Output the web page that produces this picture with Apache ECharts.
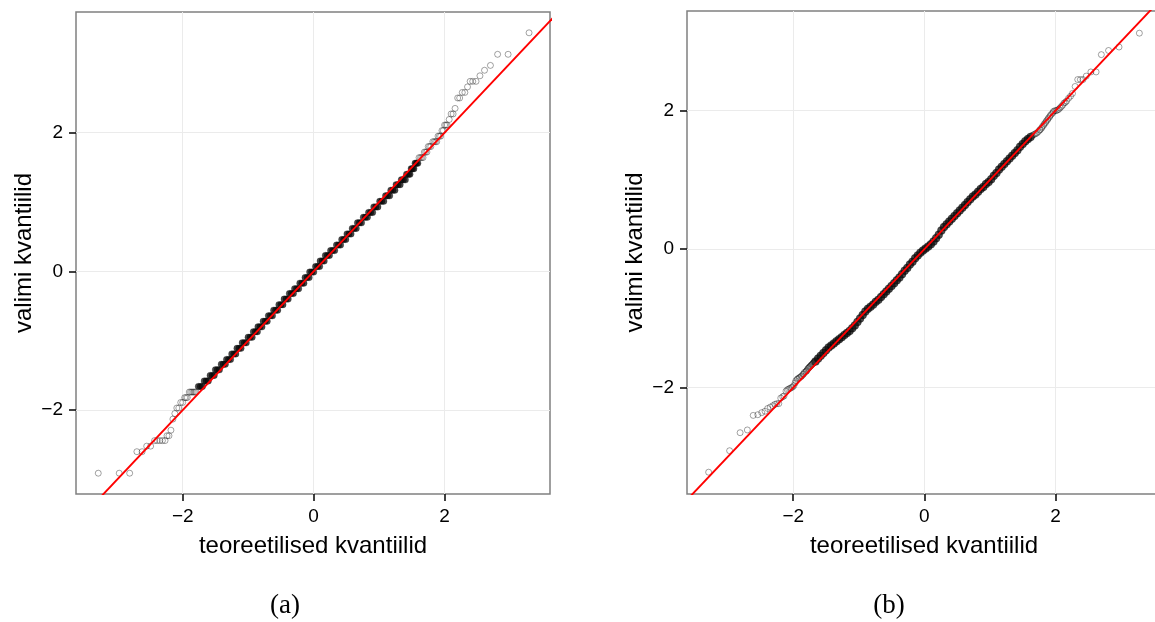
<!DOCTYPE html>
<html>
<head>
<meta charset="utf-8">
<script src="https://cdn.jsdelivr.net/npm/echarts@6/dist/echarts.min.js"></script>
<style>
  html, body { margin: 0; padding: 0; background: #fff; }
  #chart { width: 1155px; height: 622px; }
</style>
</head>
<body>
<div id="chart"></div>
<script>
// ---------- data ----------
const tickValues = [-2, 0, 2];
const xTitle = 'teoreetilised kvantiilid';
const yTitle = 'valimi kvantiilid';
const captions = ['(a)', '(b)'];

// reference line (qqline) endpoints, y = x
const refLine = [[-4, -4], [4, 4]];

// panel (a): sparse tail points [theoretical, sample]
const tailA = [
  [-3.29,-2.91],[-2.97,-2.91],[-2.81,-2.91],
  [-2.70,-2.60],[-2.62,-2.60],
  [-2.55,-2.52],[-2.49,-2.52],
  [-2.43,-2.44],[-2.39,-2.44],[-2.35,-2.44],[-2.31,-2.44],[-2.27,-2.44],
  [-2.24,-2.37],[-2.21,-2.37],
  [-2.18,-2.29],
  [-2.15,-2.13],
  [-2.12,-2.05],
  [-2.09,-1.97],[-2.06,-1.97],
  [-2.03,-1.89],[-2.00,-1.89],
  [-1.97,-1.82],[-1.95,-1.82],[-1.93,-1.82],
  [-1.90,-1.74],[-1.88,-1.74],[-1.86,-1.74],[-1.84,-1.74],[-1.82,-1.74],[-1.80,-1.74],
  [1.61,1.64],[1.63,1.64],[1.65,1.64],[1.67,1.64],
  [1.69,1.72],[1.71,1.72],[1.73,1.72],
  [1.75,1.80],[1.77,1.80],[1.79,1.80],
  [1.82,1.87],[1.84,1.87],[1.86,1.87],[1.88,1.87],
  [1.90,1.95],[1.92,1.95],[1.94,1.95],
  [1.96,2.03],[1.98,2.03],
  [2.00,2.11],[2.02,2.11],[2.04,2.11],
  [2.07,2.19],
  [2.10,2.27],[2.13,2.27],
  [2.16,2.35],
  [2.20,2.50],[2.23,2.50],
  [2.27,2.58],[2.31,2.58],
  [2.35,2.66],
  [2.39,2.74],[2.43,2.74],[2.48,2.74],
  [2.54,2.82],
  [2.61,2.90],
  [2.70,2.97],
  [2.81,3.13],[2.97,3.13],
  [3.29,3.44]
];

// panel (a): dense body (tied sample values form "beads")
const bodyA = [
  [-1.76,-1.66],[-1.73,-1.66],[-1.70,-1.66],
  [-1.67,-1.58],[-1.64,-1.58],[-1.61,-1.58],
  [-1.58,-1.50],[-1.55,-1.50],[-1.52,-1.50],
  [-1.50,-1.42],[-1.47,-1.42],[-1.44,-1.42],
  [-1.41,-1.34],[-1.38,-1.34],[-1.35,-1.34],
  [-1.33,-1.27],[-1.30,-1.27],[-1.27,-1.27],
  [-1.25,-1.19],[-1.22,-1.19],[-1.19,-1.19],
  [-1.17,-1.11],[-1.14,-1.11],[-1.11,-1.11],
  [-1.09,-1.03],[-1.06,-1.03],[-1.03,-1.03],
  [-1.00,-0.95],[-0.97,-0.95],[-0.94,-0.95],
  [-0.92,-0.87],[-0.89,-0.87],[-0.86,-0.87],
  [-0.85,-0.80],[-0.82,-0.80],[-0.79,-0.80],
  [-0.77,-0.72],[-0.74,-0.72],[-0.71,-0.72],
  [-0.69,-0.64],[-0.66,-0.64],[-0.63,-0.64],
  [-0.61,-0.56],[-0.58,-0.56],[-0.55,-0.56],
  [-0.53,-0.48],[-0.50,-0.48],[-0.47,-0.48],
  [-0.45,-0.40],[-0.42,-0.40],[-0.39,-0.40],
  [-0.37,-0.32],[-0.34,-0.32],[-0.31,-0.32],
  [-0.29,-0.25],[-0.26,-0.25],[-0.23,-0.25],
  [-0.21,-0.17],[-0.18,-0.17],[-0.15,-0.17],
  [-0.13,-0.09],[-0.10,-0.09],[-0.07,-0.09],
  [-0.06,-0.01],[-0.03,-0.01],[0.00,-0.01],
  [0.03,0.07],[0.06,0.07],[0.09,0.07],
  [0.10,0.15],[0.13,0.15],[0.16,0.15],
  [0.18,0.23],[0.21,0.23],[0.24,0.23],
  [0.26,0.30],[0.29,0.30],[0.32,0.30],
  [0.35,0.38],[0.38,0.38],[0.41,0.38],
  [0.43,0.46],[0.46,0.46],[0.49,0.46],
  [0.51,0.54],[0.54,0.54],[0.57,0.54],
  [0.59,0.62],[0.62,0.62],[0.65,0.62],
  [0.67,0.70],[0.70,0.70],[0.73,0.70],
  [0.76,0.78],[0.79,0.78],[0.82,0.78],
  [0.84,0.85],[0.87,0.85],[0.90,0.85],
  [0.92,0.93],[0.95,0.93],[0.98,0.93],
  [1.01,1.01],[1.04,1.01],[1.07,1.01],
  [1.10,1.09],[1.13,1.09],[1.16,1.09],
  [1.18,1.17],[1.21,1.17],[1.24,1.17],
  [1.26,1.25],[1.29,1.25],[1.32,1.25],
  [1.34,1.32],[1.37,1.32],[1.40,1.32],
  [1.42,1.40],[1.45,1.40],[1.47,1.40],
  [1.49,1.48],[1.51,1.48],[1.53,1.48],
  [1.55,1.56],[1.57,1.56],[1.59,1.56]
];

// panel (b): sparse tail points
const tailB = [
  [-3.29,-3.22],[-2.97,-2.91],[-2.81,-2.65],[-2.70,-2.61],
  [-2.61,-2.40],[-2.54,-2.39],[-2.48,-2.36],[-2.43,-2.34],[-2.39,-2.30],
  [-2.35,-2.28],[-2.31,-2.26],[-2.28,-2.24],[-2.25,-2.23],[-2.22,-2.23],
  [-2.19,-2.15],[-2.16,-2.13],[-2.14,-2.12],[-2.11,-2.05],[-2.09,-2.03],
  [-2.07,-2.02],[-2.05,-2.01],[-2.03,-2.00],[-2.01,-1.99],[-1.99,-1.97],
  [-1.97,-1.93],[-1.96,-1.90],[-1.94,-1.88],[-1.93,-1.87],[-1.91,-1.86],
  [-1.90,-1.85],[-1.88,-1.84],[-1.87,-1.83],[-1.85,-1.81],[-1.84,-1.80],
  [-1.83,-1.78],[-1.81,-1.77],[-1.80,-1.76],[-1.79,-1.75],[-1.78,-1.73],
  [-1.77,-1.72],[-1.76,-1.71],[-1.75,-1.70],[-1.74,-1.69],[-1.73,-1.68],
  [-1.72,-1.67],[-1.71,-1.66],[-1.70,-1.65],[-1.69,-1.64],[-1.68,-1.63],
  [1.64,1.64],[1.66,1.65],[1.68,1.66],[1.70,1.67],[1.72,1.68],[1.74,1.70],
  [1.76,1.72],[1.77,1.73],[1.79,1.75],[1.80,1.77],[1.82,1.79],[1.83,1.81],
  [1.85,1.83],[1.86,1.85],[1.88,1.87],[1.89,1.89],[1.91,1.91],[1.92,1.93],
  [1.94,1.95],[1.96,1.97],[1.97,1.99],[1.99,2.00],[2.01,2.00],[2.03,2.01],
  [2.05,2.02],[2.07,2.04],[2.09,2.06],[2.11,2.08],[2.13,2.11],[2.15,2.12],
  [2.17,2.14],[2.20,2.18],[2.23,2.21],[2.26,2.25],[2.30,2.35],
  [2.34,2.45],[2.38,2.45],[2.42,2.45],[2.47,2.50],[2.54,2.56],[2.62,2.56],
  [2.70,2.81],[2.81,2.87],[2.97,2.92],[3.28,3.12]
];

// panel (b): dense body band
const bodyB = [
  [-1.66,-1.62],[-1.62,-1.58],[-1.58,-1.54],[-1.54,-1.50],[-1.50,-1.46],
  [-1.46,-1.42],[-1.42,-1.39],[-1.38,-1.36],[-1.34,-1.33],[-1.30,-1.30],
  [-1.26,-1.27],[-1.22,-1.24],[-1.18,-1.21],[-1.14,-1.18],[-1.10,-1.14],
  [-1.06,-1.10],[-1.02,-1.05],[-0.98,-1.00],[-0.94,-0.95],[-0.90,-0.90],
  [-0.86,-0.86],[-0.82,-0.83],[-0.78,-0.80],[-0.74,-0.76],[-0.70,-0.73],
  [-0.66,-0.69],[-0.62,-0.65],[-0.58,-0.61],[-0.54,-0.57],[-0.50,-0.53],
  [-0.46,-0.49],[-0.42,-0.45],[-0.38,-0.41],[-0.34,-0.36],[-0.30,-0.31],
  [-0.26,-0.27],[-0.22,-0.22],[-0.18,-0.18],[-0.14,-0.13],[-0.10,-0.09],
  [-0.06,-0.05],[-0.02,-0.02],[0.02,0.01],[0.06,0.04],[0.10,0.07],
  [0.14,0.11],[0.18,0.16],[0.22,0.21],[0.26,0.27],[0.30,0.32],
  [0.34,0.36],[0.38,0.40],[0.42,0.44],[0.46,0.48],[0.50,0.52],
  [0.54,0.56],[0.58,0.60],[0.62,0.64],[0.66,0.68],[0.70,0.72],
  [0.74,0.76],[0.78,0.79],[0.82,0.83],[0.86,0.87],[0.90,0.90],
  [0.94,0.94],[0.98,0.97],[1.02,1.01],[1.06,1.06],[1.10,1.10],
  [1.14,1.15],[1.18,1.19],[1.22,1.23],[1.26,1.27],[1.30,1.31],
  [1.34,1.35],[1.38,1.39],[1.42,1.43],[1.46,1.48],[1.50,1.52],
  [1.54,1.56],[1.58,1.59],[1.62,1.62]
];

// ---------- chart ----------
const FONT = '"Liberation Sans", Arial, Helvetica, sans-serif';
const fmt = v => (v < 0 ? '\u2212' + Math.abs(v) : String(v));

function axisCommon(gridIndex, min, max, name) {
  return {
    type: 'value', gridIndex, min, max,
    name, nameLocation: 'middle', nameGap: 40, nameMoveOverlap: false,
    nameTextStyle: { fontSize: 24, color: '#000', fontFamily: FONT },
    axisLine: { show: false, onZero: false },
    axisTick: { show: true, inside: false, length: 7, customValues: tickValues,
                lineStyle: { color: '#111', width: 1.6 } },
    axisLabel: { show: true, customValues: tickValues, margin: 13, fontSize: 19,
                 color: '#000', fontFamily: FONT, formatter: fmt },
    splitLine: { show: true, lineStyle: { color: '#ebebeb', width: 1 } },
    minorSplitLine: { show: false }
  };
}

function gridCfg(left, top, width, height) {
  return { left, top, width, height, show: true, borderColor: '#808080', borderWidth: 1.5,
           backgroundColor: '#fff', containLabel: false, outerBoundsMode: 'none' };
}

function pointsSeries(idx, data, filled) {
  return {
    type: 'scatter', xAxisIndex: idx, yAxisIndex: idx, data,
    symbol: 'circle', symbolSize: filled ? (idx === 0 ? 6.5 : 8) : 6,
    itemStyle: filled
      ? { color: 'rgba(10,10,10,0.92)', borderColor: 'rgba(0,0,0,0.6)', borderWidth: 0.5 }
      : { color: 'rgba(0,0,0,0)', borderColor: 'rgba(0,0,0,0.45)', borderWidth: 1 },
    silent: true, z: 2, emphasis: { disabled: true }
  };
}

function lineSeries(idx) {
  return {
    type: 'line', xAxisIndex: idx, yAxisIndex: idx, data: refLine,
    symbol: 'none', showSymbol: false, clip: true, silent: true, z: 5,
    lineStyle: { color: '#ff0000', width: 1.9 }
  };
}

const option = {
  animation: false,
  backgroundColor: '#fff',
  grid: [gridCfg(76, 12, 474, 482), gridCfg(687, 11, 474, 483)],
  xAxis: [axisCommon(0, -3.63, 3.61, xTitle), axisCommon(1, -3.62, 3.61, xTitle)],
  yAxis: [axisCommon(0, -3.21, 3.74, yTitle), axisCommon(1, -3.535, 3.44, yTitle)],
  series: [
    pointsSeries(0, tailA, false), pointsSeries(0, bodyA, true), lineSeries(0),
    pointsSeries(1, tailB, false), pointsSeries(1, bodyB, true), lineSeries(1)
  ],
  graphic: [
    { type: 'text', x: 285, y: 606, silent: true,
      style: { text: captions[0], font: '27px "Liberation Serif", "DejaVu Serif", serif',
               fill: '#000', align: 'center', verticalAlign: 'middle',
               textAlign: 'center', textVerticalAlign: 'middle' } },
    { type: 'text', x: 889, y: 606, silent: true,
      style: { text: captions[1], font: '27px "Liberation Serif", "DejaVu Serif", serif',
               fill: '#000', align: 'center', verticalAlign: 'middle',
               textAlign: 'center', textVerticalAlign: 'middle' } }
  ]
};

const chart = echarts.init(document.getElementById('chart'), null, { renderer: 'canvas' });
chart.setOption(option);
</script>
</body>
</html>
